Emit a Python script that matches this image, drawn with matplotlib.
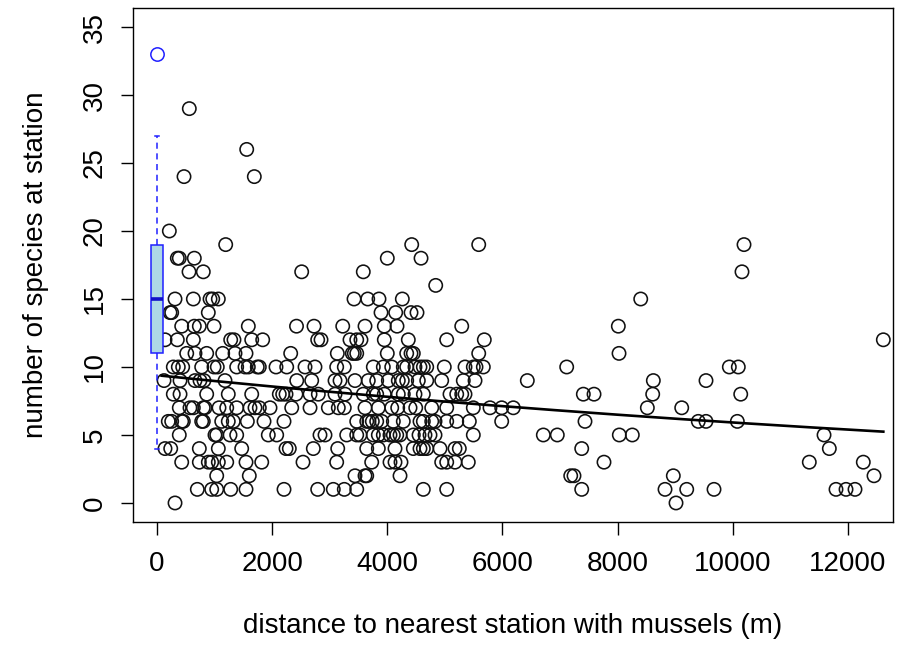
import numpy as np
import matplotlib
matplotlib.use("Agg")
import matplotlib.pyplot as plt

plt.rcParams["font.family"] = ["Liberation Sans", "DejaVu Sans"]

# Stations without mussels: species count and distance (m) to nearest mussel station
richness_levels = [29, 26, 24, 20, 19, 18, 17, 16, 15, 14, 13, 12, 11, 10, 9, 8, 7, 6, 5, 4, 3, 2, 1, 0]
distances_at_level = [
    [561],
    [1558],
    [469, 1690],
    [214],
    [1193, 4424, 5588, 10196],
    [353, 387, 648, 4000, 4586],
    [556, 804, 2513, 3583, 10161],
    [4841],
    [313, 631, 921, 968, 1065, 3422, 3660, 3856, 4261, 8402],
    [226, 255, 891, 3891, 4146, 4412, 4516],
    [429, 648, 735, 990, 1586, 2423, 2727, 3226, 3613, 3948, 4169, 5293, 8013],
    [139, 353, 631, 1280, 1337, 1645, 1836, 2791, 2849, 3352, 3469, 3543, 3948, 4365,
     5032, 5685, 12616],
    [516, 660, 863, 1141, 1355, 1546, 2322, 3132, 3392, 3427, 3469, 4000, 4337, 4412,
     4452, 5588, 8025],
    [283, 370, 446, 776, 990, 1047, 1384, 1529, 1586, 1742, 1777, 2067, 2253, 2571, 2744,
     3121, 3253, 3757, 3931, 4077, 4278, 4337, 4481, 4568, 4626, 4685, 4990, 5350, 5494,
     5541, 5668, 7116, 9941, 10097],
    [122, 400, 660, 747, 816, 1181, 2427, 2687, 3092, 3179, 3439, 3670, 3816, 4018, 4191,
     4261, 4337, 4539, 4685, 4945, 5320, 5524, 6432, 8621, 9536],
    [283, 400, 863, 1238, 1645, 2124, 2183, 2241, 2414, 2658, 2802, 3092, 3266, 3583, 3757,
     3816, 3948, 4191, 4278, 4481, 4626, 5089, 5206, 5293, 5350, 7405, 7591, 8610, 10139],
    [387, 573, 631, 804, 834, 1077, 1211, 1384, 1615, 1702, 1777, 1963, 2340, 2658, 2976,
     3149, 3253, 3613, 3844, 4077, 4181, 4395, 4494, 4772, 5032, 5494, 5784, 5987, 6189,
     8517, 9114],
    [196, 255, 429, 457, 776, 804, 1124, 1238, 1325, 1569, 1859, 2206, 3469, 3643, 3682,
     3740, 3816, 3903, 4105, 4278, 4568, 4626, 4772, 4829, 5032, 5206, 5425, 5987, 7434,
     9402, 9536, 10080],
    [387, 1007, 1037, 1268, 1384, 1933, 2079, 2831, 2918, 3295, 3469, 3526, 3757, 3844,
     3931, 4047, 4105, 4164, 4221, 4452, 4551, 4655, 4742, 4829, 5494, 6710, 6953, 8030,
     8256, 11586],
    [139, 238, 735, 1065, 1471, 2241, 2298, 2715, 3139, 3643, 3844, 4134, 4452, 4568, 4626,
     4685, 4916, 5176, 5251, 7377, 11678],
    [429, 735, 891, 950, 1065, 1211, 1546, 1819, 2536, 3121, 3729, 4047, 4134, 4238, 4945,
     5032, 5176, 5407, 7764, 11330, 12268],
    [1037, 1603, 3439, 3613, 3643, 4221, 7186, 7243, 8968, 12454],
    [700, 950, 1037, 1280, 1546, 2206, 2791, 3062, 3253, 3469, 4626, 5032, 7377, 8824,
     9201, 9675, 11794, 11968, 12124],
    [313, 9015],
]

# Stations with mussels (distance 0): species-count summary
mussel_q1, mussel_median, mussel_q3 = 11, 15, 19
mussel_whisker_low, mussel_whisker_high = 4, 27
mussel_outliers = [33]

# Poisson GLM fit (log link): species ~ distance
glm_intercept = 2.24
glm_slope = -4.62e-5

x_ticks = [0, 2000, 4000, 6000, 8000, 10000, 12000]
y_ticks = [0, 5, 10, 15, 20, 25, 30, 35]

distance = np.concatenate([np.asarray(d, float) for d in distances_at_level])
species = np.concatenate([np.full(len(d), r, float)
                          for r, d in zip(richness_levels, distances_at_level)])

fig = plt.figure(figsize=(9.04, 6.57), dpi=100)
ax = fig.add_axes([133 / 904, 135 / 657, 760 / 904, 514 / 657])

ax.scatter(distance, species, s=92, facecolors="none", edgecolors="#111111",
           linewidths=1.15, zorder=2)

xfit = np.linspace(80, distance.max(), 300)
ax.plot(xfit, np.exp(glm_intercept + glm_slope * xfit), color="black", lw=1.9, zorder=3)

stats = [dict(med=mussel_median, q1=mussel_q1, q3=mussel_q3,
              whislo=mussel_whisker_low, whishi=mussel_whisker_high,
              fliers=mussel_outliers)]
ax.bxp(stats, positions=[0], widths=[200], patch_artist=True, manage_ticks=False,
       boxprops=dict(facecolor="#add8e6", edgecolor="#2020ff", lw=1.1),
       medianprops=dict(color="#1010c8", lw=2.6),
       whiskerprops=dict(color="#2020ff", lw=1.1, ls=(0, (4, 3))),
       capprops=dict(color="#2020ff", lw=1.1),
       flierprops=dict(marker="o", markersize=9.6, markerfacecolor="none",
                       markeredgecolor="#2020ff", markeredgewidth=1.1),
       capwidths=[60], zorder=4)

ax.set_xlim(-417, 12784)
ax.set_ylim(-1.4, 36.4)
ax.set_xticks(x_ticks)
ax.set_xticklabels([str(t) for t in x_ticks])
ax.set_yticks(y_ticks)
ax.set_yticklabels([str(t) for t in y_ticks], rotation=90, va="center")
ax.tick_params(axis="both", direction="out", length=9, width=1, labelsize=20,
               colors="black")
ax.tick_params(axis="x", pad=12)
ax.tick_params(axis="y", pad=9)
for sp in ax.spines.values():
    sp.set_linewidth(1)
    sp.set_color("black")

ax.set_xlabel("distance to nearest station with mussels (m)", fontsize=20, labelpad=26)
ax.set_ylabel("number of species at station", fontsize=20, labelpad=24)

fig.savefig("out.png", dpi=100)
